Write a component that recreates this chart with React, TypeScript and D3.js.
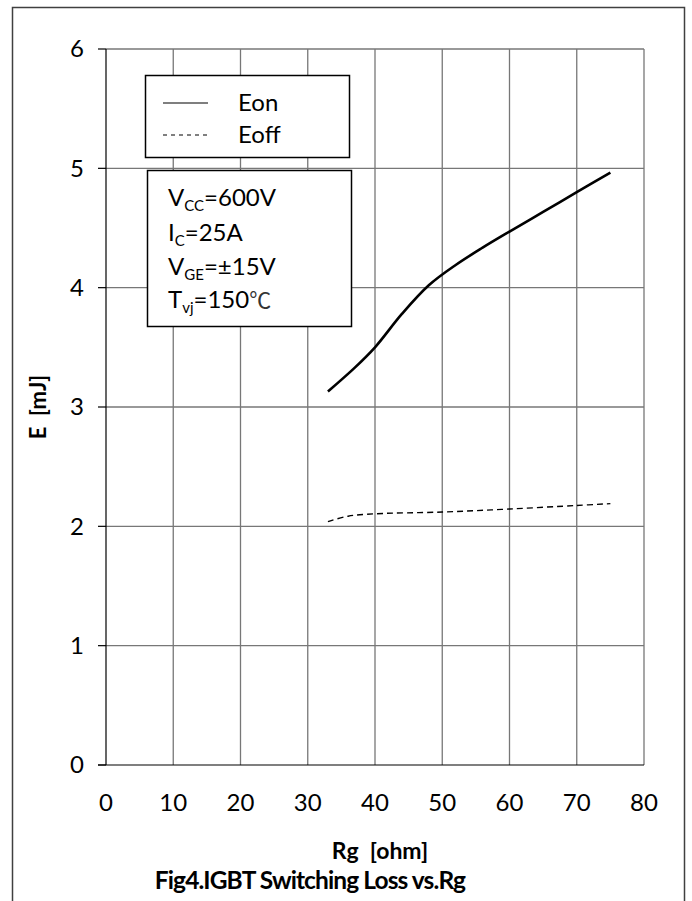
import React from "react";
import * as d3 from "d3";

const xTicks = [0, 10, 20, 30, 40, 50, 60, 70, 80];
const yTicks = [0, 1, 2, 3, 4, 5, 6];
const eonRg = [33, 37, 40, 44, 48, 52, 56, 60, 65, 70, 75];
const eonE = [3.13, 3.33, 3.5, 3.78, 4.02, 4.19, 4.335, 4.47, 4.635, 4.8, 4.965];
const eoffRg = [33, 36, 40, 50, 60, 70, 75];
const eoffE = [2.04, 2.085, 2.105, 2.12, 2.145, 2.175, 2.19];
const legendLabels = ["Eon", "Eoff"];

const W = 692;
const H = 901;
const FONT = "Lato, 'Open Sans', sans-serif";

export default function App() {
  const x = d3.scaleLinear().domain([0, 80]).range([106, 644]);
  const y = d3.scaleLinear().domain([0, 6]).range([765, 49]);
  const line = d3
    .line<[number, number]>()
    .x((d) => x(d[0]))
    .y((d) => y(d[1]))
    .curve(d3.curveCatmullRom.alpha(0.5));
  const eon: [number, number][] = eonRg.map((r, i) => [r, eonE[i]]);
  const eoff: [number, number][] = eoffRg.map((r, i) => [r, eoffE[i]]);
  const grid = "#777";

  return (
    <svg
      width={W}
      height={H}
      style={{ position: "absolute", left: 0, top: 0, background: "#fff" }}
      fontFamily={FONT}
    >
      <rect x={0} y={0} width={W} height={H} fill="#fff" />
      {/* outer frame */}
      <path d={`M12.5,${H + 2} V7.5 H684.5 V${H + 2}`} fill="none" stroke="#404040" strokeWidth={1.5} />
      {/* grid */}
      {xTicks.slice(1).map((t) => (
        <line key={"gx" + t} x1={x(t)} x2={x(t)} y1={y(0)} y2={y(6)} stroke={grid} strokeWidth={1.3} />
      ))}
      {yTicks.slice(1).map((t) => (
        <line key={"gy" + t} x1={x(0)} x2={x(80)} y1={y(t)} y2={y(t)} stroke={grid} strokeWidth={1.3} />
      ))}
      {/* axes */}
      <line x1={x(0)} x2={x(0)} y1={y(0)} y2={y(6)} stroke="#000" strokeWidth={1.2} />
      <line x1={x(0) - 8} x2={x(80)} y1={y(0)} y2={y(0)} stroke="#000" strokeWidth={1.2} />
      {yTicks.map((t) => (
        <line key={"ty" + t} x1={x(0) - 8} x2={x(0)} y1={y(t)} y2={y(t)} stroke="#000" strokeWidth={1.2} />
      ))}
      {yTicks.map((t) => (
        <text key={"ly" + t} x={84} y={y(t)} dy="0.35em" textAnchor="end" fontSize={24} fill="#000">
          {t}
        </text>
      ))}
      {xTicks.map((t) => (
        <text key={"lx" + t} x={x(t)} y={803} dy="0.35em" textAnchor="middle" fontSize={24} fill="#000">
          {t}
        </text>
      ))}
      {/* axis titles */}
      <text x={380} y={851} dy="0.35em" textAnchor="middle" fontSize={23} fontWeight="bold" style={{ whiteSpace: "pre" }}>
        {"Rg  [ohm]"}
      </text>
      <text x={310} y={880} dy="0.35em" textAnchor="middle" fontSize={24.5} fontWeight="bold" letterSpacing={-0.9}>
        Fig4.IGBT Switching Loss vs.Rg
      </text>
      <text
        transform={`translate(38,${407}) rotate(-90)`}
        textAnchor="middle"
        dy="0.35em"
        fontSize={22}
        fontWeight="bold"
        style={{ whiteSpace: "pre" }}
      >
        {"E  [mJ]"}
      </text>
      {/* curves */}
      <path d={line(eon) || ""} fill="none" stroke="#000" strokeWidth={2.6} />
      <path d={line(eoff) || ""} fill="none" stroke="#000" strokeWidth={1.4} strokeDasharray="6,4" />
      {/* legend */}
      <rect x={145.5} y={75.5} width={204} height={82} fill="#fff" stroke="#000" strokeWidth={1.5} />
      <line x1={163} x2={208} y1={103} y2={103} stroke="#000" strokeWidth={1.2} />
      <line x1={163} x2={208} y1={135} y2={135} stroke="#000" strokeWidth={1} strokeDasharray="4,4" />
      {legendLabels.map((l, i) => (
        <text key={l} x={238} y={103 + i * 32} dy="0.35em" fontSize={24}>
          {l}
        </text>
      ))}
      {/* conditions */}
      <rect x={147.5} y={170.5} width={204} height={156} fill="#fff" stroke="#000" strokeWidth={1.5} />
      <text x={168} y={198} dy="0.35em" fontSize={24}>
        V<tspan fontSize={15} dy="5">CC</tspan>
        <tspan dy="-5">=600V</tspan>
      </text>
      <text x={168} y={233} dy="0.35em" fontSize={24}>
        I<tspan fontSize={15} dy="5">C</tspan>
        <tspan dy="-5">=25A</tspan>
      </text>
      <text x={168} y={267} dy="0.35em" fontSize={24}>
        V<tspan fontSize={15} dy="5">GE</tspan>
        <tspan dy="-5">=±15V</tspan>
      </text>
      <text x={168} y={300} dy="0.35em" fontSize={24}>
        T<tspan fontSize={15} dy="5">vj</tspan>
        <tspan dy="-5">=150</tspan>
        <tspan fontFamily="'Noto Sans CJK SC'" fontSize={22} fill="#333">℃</tspan>
      </text>
    </svg>
  );
}
